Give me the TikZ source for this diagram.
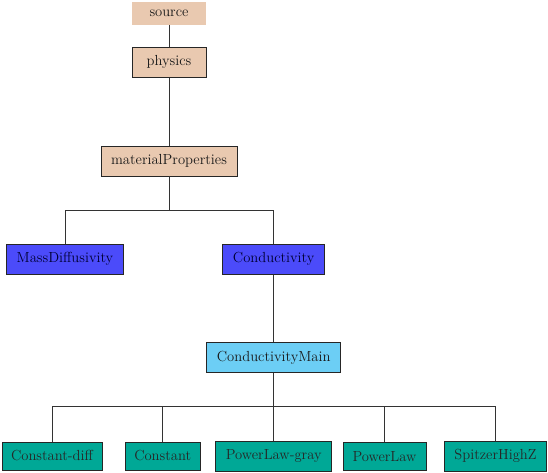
\documentclass[tikz,border=0pt]{standalone}
\begin{document}
\begin{tikzpicture}[x=1pt,y=-1pt,
  box/.style={draw=black!85,line width=0.8pt,inner sep=0pt,minimum height=30pt,font=\fontsize{14.6}{17}\selectfont,text=black!90},
  peach/.style={box,fill=peachc},
  blueb/.style={box,fill=bluec,text=black!80!blue},
  lblue/.style={box,fill=lbluec},
  teal/.style={box,fill=tealc,text=black!85},
  conn/.style={draw=black!80,line width=0.8pt}]
\definecolor{peachc}{RGB}{233,201,176}
\definecolor{bluec}{RGB}{75,75,250}
\definecolor{lbluec}{RGB}{108,206,245}
\definecolor{tealc}{RGB}{0,168,150}
\useasboundingbox (0,0) rectangle (548,472);
\node[peach,draw=none,minimum width=74pt,minimum height=23pt] (src) at (169,13) {source};
\node[peach,minimum width=74pt] (phy) at (169,62.3) {physics};
\node[peach,minimum width=136pt] (mp) at (169,161) {materialProperties};
\node[blueb,minimum width=117pt] (md) at (65,259.3) {MassDiffusivity};
\node[blueb,minimum width=102pt] (cond) at (273.7,259.2) {Conductivity};
\node[lblue,minimum width=134pt] (cm) at (273.7,357.7) {ConductivityMain};
\node[teal,minimum width=100pt,minimum height=28pt] (c1) at (52,456) {Constant-diff};
\node[teal,minimum width=75pt,minimum height=28pt] (c2) at (162.7,456) {Constant};
\node[teal,minimum width=116pt] (c3) at (273.7,456) {PowerLaw-gray};
\node[teal,minimum width=83pt,minimum height=28pt] (c4) at (384.5,456.5) {PowerLaw};
\node[teal,minimum width=102pt] (c5) at (495.5,456) {SpitzerHighZ};
\coordinate (j1) at (169,210);
\coordinate (j2) at (273.7,406.7);
\draw[conn] (src) -- (phy);
\draw[conn] (phy) -- (mp);
\draw[conn] (mp) -- (j1) -| (md);
\draw[conn] (j1) -| (cond);
\draw[conn] (cond) -- (cm);
\draw[conn] (cm) -- (j2);
\foreach \c in {c1,c2,c3,c4,c5} \draw[conn] (j2) -| (\c);
\end{tikzpicture}
\end{document}
